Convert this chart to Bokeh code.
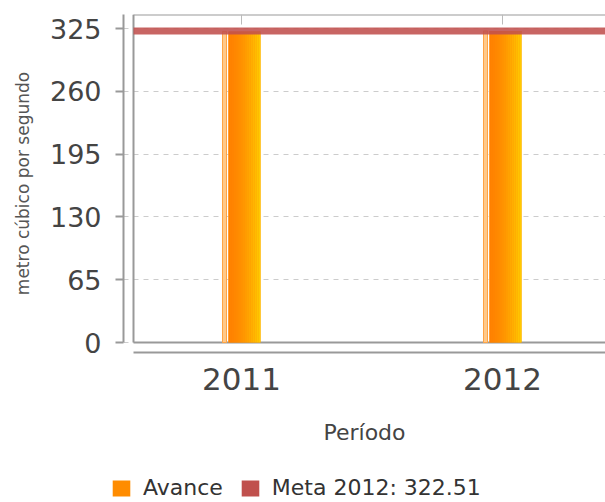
from bokeh.plotting import figure
from bokeh.models import FixedTicker, Legend, LegendItem, Range1d
from bokeh.layouts import column, row
from bokeh.embed import file_html
from bokeh.resources import INLINE

# ---- data ----
years = [2011, 2012]
year_labels = ["2011", "2012"]
avance = [322.0, 322.5]
meta_value = 322.51
meta_label = "Meta 2012: 322.51"
series_labels = ["Avance", meta_label]
y_ticks = [0, 65, 130, 195, 260, 325]

# ---- geometry helpers (pixel -> data) ----
PX = 261.0              # px per year
PXY = 314.0 / 325.0     # px per unit
x_start = years[0] - 118 / PX
x_end = years[-1] + 103 / PX
x_inner = years[0] - 108 / PX
y_end = 325 + 14 / PXY
y_start = -10 / PXY

FONT = "DejaVu Sans"
GRAY = "#999999"
ORANGE = "#FF8C00"
RED = "#C0504D"

p = figure(frame_width=482, frame_height=338, output_backend="svg", toolbar_location=None,
           x_range=Range1d(x_start, x_end), y_range=Range1d(y_start, y_end),
           min_border_left=123, min_border_right=0, min_border_top=14,
           min_border_bottom=100)
p.outline_line_color = None
p.background_fill_color = "white"
p.border_fill_color = "white"

# grid
p.xgrid.visible = False
p.ygrid.ticker = FixedTicker(ticks=y_ticks)
p.ygrid.grid_line_color = "#cccccc"
p.ygrid.grid_line_dash = "5 5"
p.ygrid.grid_line_width = 1

# inner frame lines
p.segment(x0=[x_inner, x_inner, x_inner], y0=[0, 0, y_end],
          x1=[x_inner, x_end, x_end], y1=[y_end, 0, y_end],
          line_color=GRAY, line_width=2)
# small top ticks at categories
p.segment(x0=years, y0=[y_end] * 2, x1=years, y1=[y_end - 10 / PXY] * 2,
          line_color="#bbbbbb", line_width=1)

# stripe (3d side)
stripe_off = -17 / PX
p.vbar(x=[y + stripe_off for y in years], top=avance, bottom=0, width=4 / PX,
       fill_color="#FFC98A", line_color="#FFA444", line_width=1)

# main bars: base + gradient strips
main_off = 3 / PX
p.vbar(x=[y + main_off for y in years], top=avance, bottom=0, width=32 / PX,
       fill_color=ORANGE, line_color=None)
n = 16
left_px, right_px = -13, 19
c0 = (255, 128, 0)
c1 = (255, 206, 0)
for i in range(n):
    t = (i + 0.5) / n
    tt = t ** 1.6
    col = "#%02x%02x%02x" % tuple(int(round(a + (b - a) * tt)) for a, b in zip(c0, c1))
    cpx = left_px + (right_px - left_px) * (i + 0.5) / n
    p.vbar(x=[y + cpx / PX for y in years], top=avance, bottom=0,
           width=(right_px - left_px) / n / PX * 1.05,
           fill_color=col, line_color=None)

# meta line as thin bar
p.hbar(y=[meta_value], left=[x_inner], right=[x_end], height=7 / PXY,
       fill_color=RED, fill_alpha=0.88, line_color=None)

# axes
yax = p.yaxis[0]
yax.ticker = FixedTicker(ticks=y_ticks)
yax.bounds = (0, y_end)
yax.axis_line_color = GRAY
yax.axis_line_width = 2
yax.major_tick_line_color = GRAY
yax.major_tick_line_width = 2
yax.major_tick_out = 8
yax.major_tick_in = 0
yax.minor_tick_line_color = None
yax.major_label_standoff = 14
yax.major_label_text_font = FONT
yax.major_label_text_font_size = "27px"
yax.major_label_text_color = "#444444"
yax.axis_label = "metro cúbico por segundo"
yax.axis_label_text_font = FONT
yax.axis_label_text_font_size = "17px"
yax.axis_label_text_font_style = "normal"
yax.axis_label_text_color = "#555555"
yax.axis_label_standoff = 14

xax = p.xaxis[0]
xax.ticker = FixedTicker(ticks=years)
xax.major_label_overrides = {y: l for y, l in zip(years, year_labels)}
xax.bounds = (x_inner, x_end)
xax.axis_line_color = GRAY
xax.axis_line_width = 2
xax.major_tick_line_color = None
xax.major_tick_out = 0
xax.major_tick_in = 0
xax.minor_tick_line_color = None
xax.major_label_standoff = 15
xax.major_label_text_font = FONT
xax.major_label_text_font_size = "31px"
xax.major_label_text_color = "#444444"
xax.axis_label = "Período"
xax.axis_label_text_font = FONT
xax.axis_label_text_font_size = "22px"
xax.axis_label_text_font_style = "normal"
xax.axis_label_text_color = "#444444"
xax.axis_label_standoff = 27

# ---- legend strip below ----
lf = figure(width=605, height=50, output_backend="svg", toolbar_location=None,
            x_range=Range1d(0, 1), y_range=Range1d(0, 1),
            x_axis_location=None, y_axis_location=None,
            min_border=0, min_border_left=0, min_border_right=0,
            min_border_top=0, min_border_bottom=0)
lf.grid.visible = False
lf.outline_line_color = None
r1 = lf.vbar(x=[0.5], top=[0], bottom=[0], width=0.0, fill_color=ORANGE, line_color=None)
r2 = lf.vbar(x=[0.5], top=[0], bottom=[0], width=0.0, fill_color=RED, line_color=None)
legend = Legend(items=[LegendItem(label=series_labels[0], renderers=[r1]),
                       LegendItem(label=series_labels[1], renderers=[r2])],
                orientation="horizontal", location=(110, 2),
                glyph_width=22, glyph_height=20, label_standoff=11, spacing=16,
                label_height=20,
                label_text_font=FONT, label_text_font_size="22px",
                label_text_color="#333333", border_line_color=None,
                background_fill_alpha=0, padding=0, margin=0)
lf.add_layout(legend, "center")

layout = column(p, row(lf, spacing=0), spacing=0)
open("out.html", "w").write(file_html(layout, INLINE))
